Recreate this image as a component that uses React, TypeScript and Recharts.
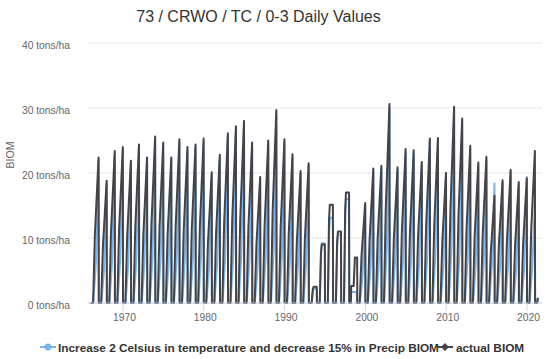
import React from 'react';
import { LineChart, Line, XAxis, YAxis, CartesianGrid } from 'recharts';

if (typeof document !== 'undefined') {
  document.body.style.margin = '0';
}

// Growing seasons (peak reached at the end of each season year)
const seasons = [
  1966, 1967, 1968, 1969, 1970, 1971, 1972, 1973, 1974, 1975,
  1976, 1977, 1978, 1979, 1980, 1981, 1982, 1983, 1984, 1985,
  1986, 1987, 1988, 1989, 1990, 1991, 1992, 1993, 1994, 1995,
  1996, 1997, 1998, 1999, 2000, 2001, 2002, 2003, 2004, 2005,
  2006, 2007, 2008, 2009, 2010, 2011, 2012, 2013, 2014, 2015,
  2016, 2017, 2018, 2019, 2020,
];

const seasonKind = [
  'spike', 'spike', 'spike', 'spike', 'spike', 'spike', 'spike', 'spike', 'spike', 'spike',
  'spike', 'spike', 'spike', 'spike', 'spike', 'spike', 'spike', 'spike', 'spike', 'spike',
  'spike', 'spike', 'spike', 'spike', 'spike', 'spike', 'spike', 'plateau', 'plateau', 'plateau',
  'plateau', 'plateau', 'step', 'spike', 'spike', 'spike', 'spike', 'spike', 'spike', 'spike',
  'spike', 'spike', 'spike', 'spike', 'spike', 'spike', 'spike', 'spike', 'spike', 'spike',
  'spike', 'spike', 'spike', 'spike', 'spike',
];

// actual BIOM (tons/ha)
const actualPeak = [
  22.4, 18.8, 23.4, 24.0, 21.9, 24.4, 22.4, 25.6, 24.7, 22.4,
  25.2, 24.0, 24.4, 25.3, 20.1, 22.8, 26.1, 27.2, 28.0, 24.7,
  19.4, 25.0, 29.7, 25.2, 22.9, 20.3, 21.5, 2.5, 9.0, 15.1,
  11.0, 17.0, 7.0, 15.4, 20.7, 21.1, 30.6, 20.9, 23.7, 23.5,
  21.7, 25.3, 25.4, 20.0, 30.2, 28.4, 24.2, 21.6, 22.5, 16.5,
  18.9, 20.5, 18.6, 19.2, 23.4,
];
const actualMid = [
  10.5, 8.8, 11.0, 11.3, 10.3, 11.5, 10.5, 12.0, 11.6, 10.5,
  11.8, 11.3, 11.5, 11.9, 9.4, 10.7, 12.3, 12.8, 13.2, 11.6,
  9.1, 11.8, 14.0, 11.8, 10.8, 9.5, 10.1, 2.2, 7.7, 12.8,
  9.4, 14.5, 2.6, 7.2, 9.7, 9.9, 14.4, 9.8, 11.1, 11.0,
  10.2, 11.9, 11.9, 9.4, 14.2, 13.3, 11.4, 10.2, 10.6, 7.8,
  8.9, 9.6, 8.7, 9.0, 11.0,
];

// Increase 2 Celsius in temperature and decrease 15% in Precip BIOM (tons/ha)
const scenarioPeak = [
  22.0, 18.4, 23.0, 23.5, 21.5, 23.9, 22.0, 25.1, 24.2, 22.0,
  24.7, 23.5, 23.9, 24.8, 19.7, 22.3, 25.6, 26.7, 27.4, 24.2,
  19.0, 24.5, 29.1, 24.7, 22.4, 19.9, 21.1, 2.2, 9.2, 13.1,
  10.5, 16.0, 1.7, 15.0, 20.3, 20.7, 30.0, 20.5, 23.2, 23.0,
  21.3, 24.8, 24.9, 19.6, 29.6, 27.8, 23.7, 21.2, 22.0, 18.4,
  18.5, 20.1, 18.2, 19.4, 15.5,
];
const scenarioMid = [
  6.3, 5.3, 6.6, 6.7, 6.1, 6.8, 6.3, 7.2, 6.9, 6.3,
  7.1, 6.7, 6.8, 7.1, 5.6, 6.4, 7.3, 7.6, 7.8, 6.9,
  5.4, 7.0, 8.3, 7.1, 6.4, 5.7, 6.0, 2.0, 7.8, 11.2,
  8.9, 13.6, 1.7, 4.3, 5.8, 5.9, 8.6, 5.9, 6.6, 6.6,
  6.1, 7.1, 7.1, 5.6, 8.5, 8.0, 6.8, 6.0, 6.3, 5.8,
  5.3, 5.7, 5.2, 5.4, 5.5,
];

// partial 2021 season at the end of the record
const tailTimes = [2021.25, 2021.35];
const tailActual = [0, 0.8];
const tailScenario = [0, 0.8];

const yTicks = [0, 10, 20, 30, 40];
const xTicks = [1970, 1980, 1990, 2000, 2010, 2020];

// within-season profiles: [offset in year, which value]
type Shape = [number, string][];
const ACTUAL_SHAPES: Record<string, Shape> = {
  spike: [[0.3, 'zero'], [0.52, 'mid'], [0.98, 'peak'], [1.005, 'zero']],
  plateau: [[0.35, 'zero'], [0.5, 'mid'], [0.6, 'peak'], [0.98, 'peak'], [1.005, 'zero']],
  step: [[0.2, 'zero'], [0.25, 'mid'], [0.55, 'mid'], [0.7, 'peak'], [0.98, 'peak'], [1.005, 'zero']],
};
const SCENARIO_SHAPES: Record<string, Shape> = {
  spike: [[0.32, 'zero'], [0.66, 'mid'], [0.98, 'peak'], [1.005, 'zero']],
  plateau: [[0.36, 'zero'], [0.52, 'mid'], [0.62, 'peak'], [0.98, 'peak'], [1.005, 'zero']],
  step: [[0.2, 'zero'], [0.25, 'mid'], [0.55, 'mid'], [0.7, 'peak'], [0.93, 'peak'], [0.95, 'zero']],
};

function buildSeries(
  shapes: Record<string, Shape>,
  mids: number[],
  peaks: number[],
  tailVals: number[],
) {
  const out: { t: number; v: number }[] = [{ t: 1966, v: 0 }];
  seasons.forEach((y, i) => {
    shapes[seasonKind[i]].forEach(([off, which]) => {
      const v = which === 'zero' ? 0 : which === 'mid' ? mids[i] : peaks[i];
      out.push({ t: y + off, v });
    });
  });
  tailTimes.forEach((t, i) => out.push({ t, v: tailVals[i] }));
  return out;
}

const actualData = buildSeries(ACTUAL_SHAPES, actualMid, actualPeak, tailActual);
const scenarioData = buildSeries(SCENARIO_SHAPES, scenarioMid, scenarioPeak, tailScenario);

const FONT = '"Liberation Sans", Arial, Helvetica, sans-serif';

const YTick = (props: any) => {
  const { y, payload } = props;
  return (
    <text x={70} y={y + 2.5} dy="0.35em" textAnchor="end" fill="#666666" fontSize={10.3} fontFamily={FONT}>
      {`${payload.value} tons/ha`}
    </text>
  );
};

const XTick = (props: any) => {
  const { x, payload } = props;
  return (
    <text x={x + 1.5} y={320.5} textAnchor="middle" fill="#666666" fontSize={10.3} fontFamily={FONT}>
      {payload.value}
    </text>
  );
};

export default function App() {
  return (
    <div style={{ position: 'relative', width: 550, height: 359, background: '#ffffff', fontFamily: FONT }}>
      <div style={{ position: 'absolute', left: 0, top: 0 }}>
        <LineChart width={550} height={359} margin={{ top: 43, right: 8, bottom: 0, left: 0 }}>
          <CartesianGrid vertical={false} stroke="#e6e6e6" />
          <XAxis
            type="number"
            dataKey="t"
            domain={[1965.67, 2021.86]}
            ticks={xTicks}
            allowDataOverflow
            height={56}
            tickSize={8}
            tickLine={{ stroke: '#ccd6eb' }}
            axisLine={{ stroke: '#ccd6eb' }}
            tick={<XTick />}
          />
          <YAxis
            type="number"
            domain={[0, 40]}
            ticks={yTicks}
            width={88}
            axisLine={false}
            tickLine={false}
            tick={<YTick />}
          />
          <Line
            data={scenarioData}
            type="linear"
            dataKey="v"
            name="Increase 2 Celsius in temperature and decrease 15% in Precip BIOM"
            stroke="#7cb5ec"
            strokeWidth={2}
            dot={false}
            isAnimationActive={false}
            strokeLinejoin="round"
          />
          <Line
            data={actualData}
            type="linear"
            dataKey="v"
            name="actual BIOM"
            stroke="#434348"
            strokeWidth={2}
            dot={false}
            isAnimationActive={false}
            strokeLinejoin="round"
          />
        </LineChart>
      </div>
      <svg width={550} height={359} style={{ position: 'absolute', left: 0, top: 0, pointerEvents: 'none' }}>
        <text x={258.5} y={22} textAnchor="middle" fill="#333333" fontSize={16} fontFamily={FONT}>
          73 / CRWO / TC / 0-3 Daily Values
        </text>
        <text
          x={14}
          y={155}
          transform="rotate(-90 14 155)"
          textAnchor="middle"
          fill="#666666"
          fontSize={10.5}
          fontFamily={FONT}
        >
          BIOM
        </text>
        <line x1={40} y1={347} x2={56} y2={347} stroke="#7cb5ec" strokeWidth={2} />
        <circle cx={48} cy={347} r={3.5} fill="#7cb5ec" />
        <text x={58} y={351.5} fill="#333333" fontSize={11.8} fontWeight="bold" fontFamily={FONT}>
          Increase 2 Celsius in temperature and decrease 15% in Precip BIOM
        </text>
        <line x1={437} y1={347} x2={453} y2={347} stroke="#434348" strokeWidth={2} />
        <path d="M445 343 L449 347 L445 351 L441 347 Z" fill="#434348" />
        <text x={456} y={351.5} fill="#333333" fontSize={11.8} fontWeight="bold" fontFamily={FONT}>
          actual BIOM
        </text>
      </svg>
    </div>
  );
}
